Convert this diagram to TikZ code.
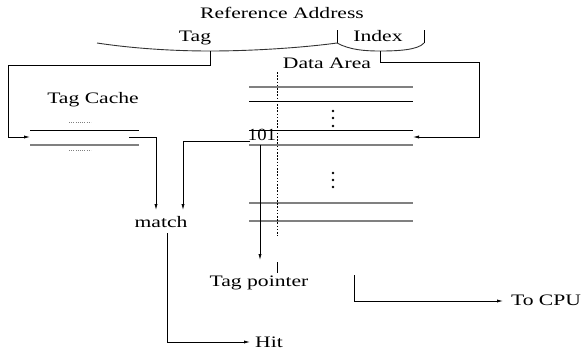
\documentclass[tikz,border=0pt]{standalone}
\usepackage{fontspec}
\setmainfont{Liberation Serif}[FakeStretch=1.35]
\newfontfamily\plainserif{Liberation Serif}[FakeStretch=1.1]
\usetikzlibrary{arrows.meta}
\definecolor{lgray}{HTML}{808080}
\tikzset{
  lbl/.style={anchor=base, inner sep=0pt, font=\fontsize{16bp}{19bp}\selectfont},
  conn/.style={line width=0.8bp, draw=black},
  arr/.style={conn, -{Latex[length=6bp,width=3.2bp]}},
  blk/.style={line width=0.8bp, draw=black},
  gry/.style={line width=1.2bp, draw=lgray},
  vdot/.style={fill=black, draw=none}
}
\begin{document}
\begin{tikzpicture}[x=1bp,y=-1bp]
\useasboundingbox (0,0) rectangle (586,354);
% texts
\node[lbl] (refaddr) at (282,18) {Reference Address};
\node[lbl] (tag) at (195,41) {Tag};
\node[lbl] (index) at (378,41) {Index};
\node[lbl] (dataarea) at (327,68) {Data Area};
\node[lbl] (tagcache) at (93,103) {Tag Cache};
\node[lbl, font=\plainserif\fontsize{17bp}{19bp}\selectfont] (v101) at (262,140) {101};
\node[lbl] (match) at (161,227) {match};
\node[lbl] (tagptr) at (259,286) {Tag pointer};
\node[lbl] (tocpu) at (546,305) {To CPU};
\node[lbl] (hit) at (269,347) {Hit};
% brace
\coordinate (tagmid) at (210,51);
\coordinate (idxmid) at (380,51);
\draw[line width=0.9bp, draw=black!80] (97,43) .. controls (130,48) and (170,51) .. (tagmid)
  .. controls (250,51) and (300,48) .. (337,43);
\draw[line width=0.9bp] (337,30) -- (337,43);
\draw[line width=0.9bp, draw=black!80] (337,43) .. controls (350,50) and (365,51) .. (idxmid)
  .. controls (398,51) and (418,50) .. (424,43);
\draw[line width=0.9bp] (424,30) -- (424,43);
% tag cache rows
\coordinate (tcL) at (30,137);
\draw[blk] (30,130) -- (139,130);
\draw[gry] (30,145) -- (139,145);
\draw[lgray, line width=0.6bp, dash pattern=on 0.7bp off 1.5bp] (69,122) -- (91,122);
\draw[lgray, line width=0.6bp, dash pattern=on 0.7bp off 1.5bp] (69,150) -- (91,150);
% data area rows
\coordinate (daR) at (413,137);
\draw[gry] (249,87) -- (413,87);
\draw[blk] (249,101) -- (413,101);
\draw[blk] (249,130) -- (413,130);
\draw[gry] (249,145) -- (413,145);
\draw[gry] (249,203) -- (413,203);
\draw[gry] (249,221) -- (413,221);
\foreach \y in {111,118,126,173,180,187} \fill[vdot] (333,\y) circle (1.4bp);
\draw[line width=0.7bp, dash pattern=on 1.6bp off 1.6bp] (277,72) -- (277,236);
% connectors
\draw[arr] (tagmid) -- (210,65) -- (8,65) -- (8,137) -- (tcL);
\draw[arr] (idxmid) -- (380,62) -- (479,62) -- (479,137) -- (daR);
\coordinate (tcout) at (129,137);
\coordinate (m1) at (156,210);
\coordinate (m2) at (183,210);
\draw[arr] (tcout) -- (156,137) -- (m1);
\coordinate (o101) at (250,141);
\draw[arr] (o101) -- (183,141) -- (m2);
\coordinate (s101) at (260,145);
\coordinate (e101) at (260,260);
\draw[arr] (s101) -- (e101);
\draw[conn] (277,262) -- (277,273);
\coordinate (mout) at (167,233);
\coordinate (hitin) at (250,342);
\draw[arr] (mout) -- (167,342) -- (hitin);
\coordinate (cpus) at (354,275);
\coordinate (cpue) at (503,301);
\draw[arr] (cpus) -- (354,301) -- (cpue);
\end{tikzpicture}
\end{document}
